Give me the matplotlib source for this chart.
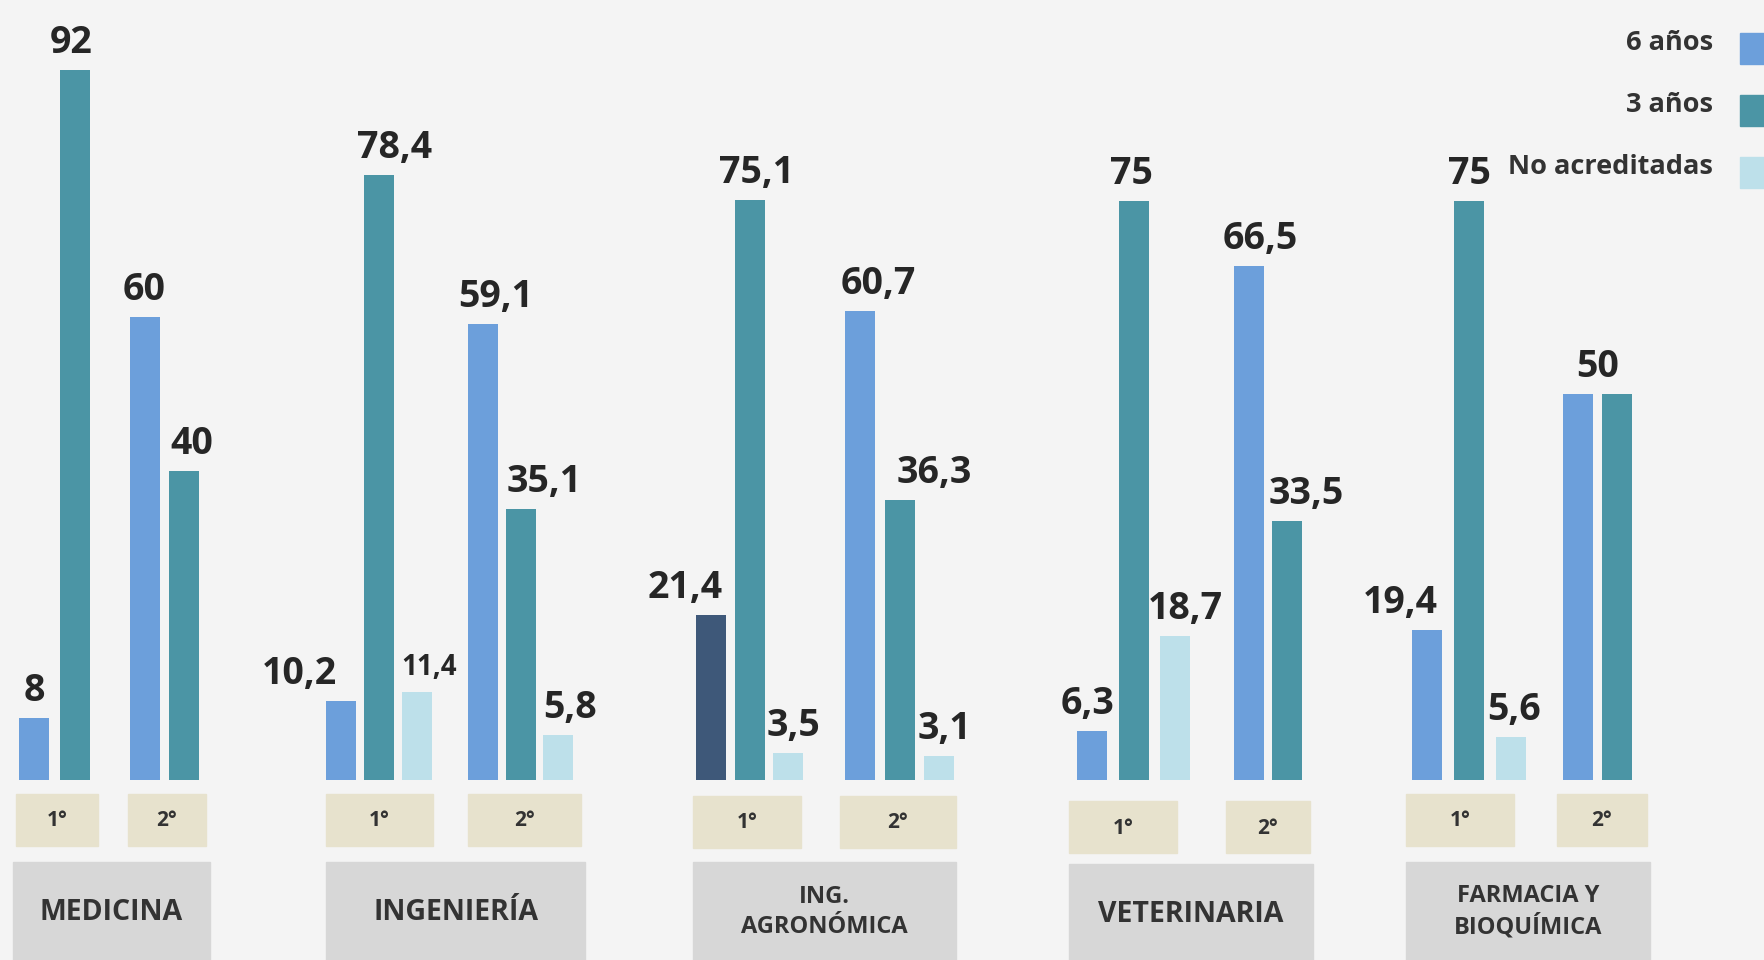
import matplotlib.pyplot as plt
from matplotlib.patches import Rectangle

plt.rcParams['font.family'] = ['Open Sans', 'DejaVu Sans']

# Datos (% de carreras por tipo de acreditacion)
carreras = ['MEDICINA', 'INGENIERÍA', 'ING.\nAGRONÓMICA', 'VETERINARIA', 'FARMACIA Y\nBIOQUÍMICA']
anios = ['1°', '2°']
series = ['6 años', '3 años', 'No acreditadas']

seis_1 = [8, 10.2, 21.4, 6.3, 19.4]
tres_1 = [92, 78.4, 75.1, 75, 75]
no_acr_1 = [None, 11.4, 3.5, 18.7, 5.6]
seis_2 = [60, 59.1, 60.7, 66.5, 50]
tres_2 = [40, 35.1, 36.3, 33.5, 50]
no_acr_2 = [None, 5.8, 3.1, None, None]

colores = ['#6c9fdb', '#4b95a5', '#bde0ea']
color_agro = '#3e5879'   # la barra de 6 años 1° de agronomia va mas oscura
texto = '#262626'

# Layout (pixeles)
bar_w = 30
izq_1 = [19, 326, 696, 1077, 1412]
izq_2 = [130, 468, 845, 1234, 1563]
paso_1 = [41, 38, 38.5, 41.5, 42]
paso_2 = [39, 37.5, 39.5, 38, 39]
dx_1 = [[0, -4, 0], [-42, 16, 12], [-26, 7, 5], [-4, -2, 10], [-27, 0, 3]]
dx_2 = [[-1, 8, 0], [13, 24, 12], [18, 35, 5], [11, 19, 0], [0, 0, 0]]
caja_1 = [(16, 82), (326, 107), (693, 108), (1069, 108), (1406, 108)]
caja_2 = [(128, 78), (468, 113), (840, 116), (1226, 84), (1557, 90)]
caja_top = [794, 794, 796, 801, 794]
cat_caja = [(13, 197), (326, 259), (693, 263), (1069, 244), (1406, 244)]
cat_top = [862, 862, 862, 864, 862]

fig = plt.figure(figsize=(17.64, 9.6), dpi=100)
fig.patch.set_facecolor('#f4f4f4')

# ejes en pixeles para cajas, textos y leyenda
ax_px = fig.add_axes([0, 0, 1, 1])
ax_px.set_xlim(0, 1764)
ax_px.set_ylim(960, 0)
ax_px.axis('off')

# ejes de valores para las barras (base en y=780 px)
ax = fig.add_axes([0, 180 / 960, 1, 780 / 960])
ax.set_xlim(0, 1764)
ax.set_ylim(0, 101)
ax.axis('off')
ax.patch.set_alpha(0)

def fmt(v):
    return ('%g' % v).replace('.', ',')

for i, carrera in enumerate(carreras):
    bloques = [
        ([seis_1[i], tres_1[i], no_acr_1[i]], izq_1[i], paso_1[i], dx_1[i]),
        ([seis_2[i], tres_2[i], no_acr_2[i]], izq_2[i], paso_2[i], dx_2[i]),
    ]
    for yr, (vals, x0, paso, dxs) in enumerate(bloques):
        for k, v in enumerate(vals):
            if v is None:
                continue
            x = x0 + k * paso
            col = colores[k]
            if i == 2 and yr == 0 and k == 0:
                col = color_agro
            ax.bar(x, v, width=bar_w, align='edge', color=col, zorder=3)
            # etiqueta de valor
            if k == 1 and v == vals[0]:
                continue
            xc = x + bar_w / 2 + dxs[k]
            if k == 0 and vals[1] == v:
                xc = x + (paso + bar_w) / 2
            size = 20 if (i, yr, k) == (1, 0, 2) else 27
            ax.annotate(fmt(v), (xc, v), xytext=(0, 17), textcoords='offset pixels',
                        ha='center', va='baseline', fontsize=size,
                        fontweight='bold', color=texto, zorder=4)

    # cajas de año
    for yr, (cx, cw) in enumerate([caja_1[i], caja_2[i]]):
        ax_px.add_patch(Rectangle((cx, caja_top[i]), cw, 52, color='#e7e2cd', zorder=1))
        ax_px.text(cx + cw / 2, caja_top[i] + 27, anios[yr], ha='center', va='center',
                   fontsize=15, fontweight='bold', color='#333333', zorder=2)

    # caja de carrera
    gx, gw = cat_caja[i]
    ax_px.add_patch(Rectangle((gx, cat_top[i]), gw, 960 - cat_top[i], color='#d7d7d7', zorder=1))
    fs = 17 if '\n' in carrera else 20.5
    ax_px.text(gx + gw / 2, cat_top[i] + 50, carrera, ha='center', va='center',
               fontsize=fs, fontweight='bold', color='#333333', linespacing=1.3, zorder=2)

# Leyenda
ley_y = [50, 112, 174]
for k, nombre in enumerate(series):
    ax_px.text(1713, ley_y[k], nombre, ha='right', va='baseline',
               fontsize=19.5, fontweight='bold', color='#333333')
    ax_px.add_patch(Rectangle((1740, ley_y[k] - 17), 40, 31, color=colores[k]))

fig.savefig('out.png', dpi=100, facecolor=fig.get_facecolor())
